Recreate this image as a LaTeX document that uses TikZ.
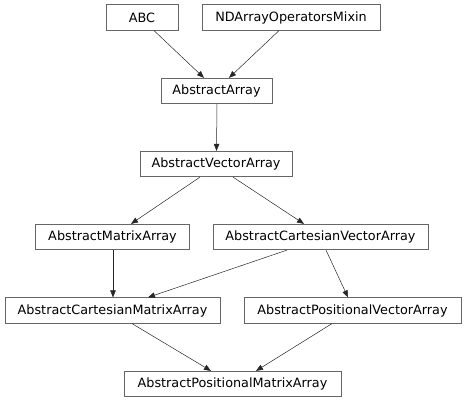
\documentclass[tikz,border=0pt]{standalone}
\usepackage{fontspec}
\setmainfont{DejaVu Sans}
\usepackage{tikz}
\usetikzlibrary{positioning, arrows.meta}

\begin{document}
\begin{tikzpicture}[x=1pt, y=-1pt,
        cls/.style={rectangle, draw=black!60, line width=0.7pt, minimum height=25.5pt,
            inner sep=0pt, font=\fontsize{12.8}{15}\selectfont},
        inh/.style={-{Triangle[length=7pt, width=5.5pt]}, draw=black!85, line width=0.5pt}]
    \useasboundingbox (0,0) rectangle (466,403);
    \node[cls, minimum width=72pt] (abc) at (142,17.5) {ABC};
    \node[cls, minimum width=178pt] (mixin) at (291,17.5) {NDArrayOperatorsMixin};
    \node[cls, minimum width=111pt] (array) at (216.5,91) {AbstractArray};
    \node[cls, minimum width=152pt] (vector) at (216,164) {AbstractVectorArray};
    \node[cls, minimum width=154pt] (matrix) at (112.5,237) {AbstractMatrixArray};
    \node[cls, minimum width=215pt] (cartvec) at (320.5,237) {AbstractCartesianVectorArray};
    \node[cls, minimum width=215pt] (cartmat) at (112.5,310.5) {AbstractCartesianMatrixArray};
    \node[cls, minimum width=217pt] (posvec) at (352.5,310.5) {AbstractPositionalVectorArray};
    \node[cls, minimum width=217pt] (posmat) at (232.5,384) {AbstractPositionalMatrixArray};

    \draw[inh] ([xshift=12pt]abc.south) -- ([xshift=-12.5pt]array.north);
    \draw[inh] ([xshift=-12pt]mixin.south) -- ([xshift=12.5pt]array.north);
    \draw[inh] ([xshift=0.5pt]array.south) -- ([xshift=0.5pt]vector.north);
    \draw[inh] ([xshift=-16pt]vector.south) -- ([xshift=18.5pt]matrix.north);
    \draw[inh] ([xshift=17pt]vector.south) -- ([xshift=-16.5pt]cartvec.north);
    \draw[inh] ([xshift=0.5pt]matrix.south) -- ([xshift=0.5pt]matrix.south |- cartmat.north);
    \draw[inh] ([xshift=-33.5pt]cartvec.south) -- ([xshift=35.5pt]cartmat.north);
    \draw[inh] ([xshift=5.5pt]cartvec.south) -- ([xshift=-4.5pt]posvec.north);
    \draw[inh] ([xshift=19.5pt]cartmat.south) -- ([xshift=-21.5pt]posmat.north);
    \draw[inh] ([xshift=-20.5pt]posvec.south) -- ([xshift=23.5pt]posmat.north);
\end{tikzpicture}
\end{document}
